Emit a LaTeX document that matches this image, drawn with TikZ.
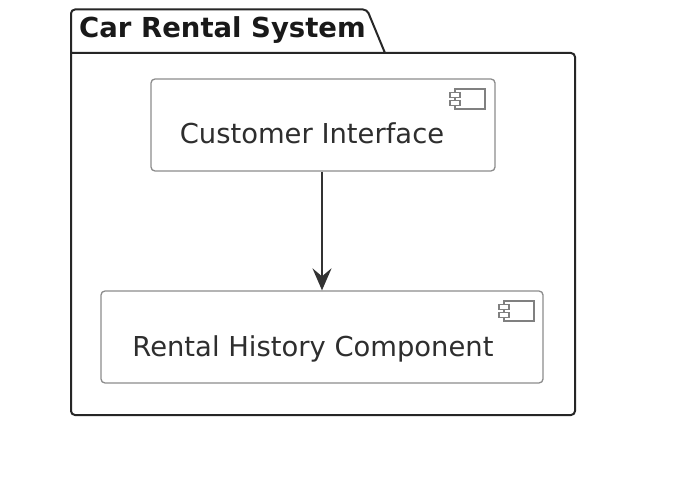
\documentclass[tikz,border=0pt]{standalone}
\usepackage{fontspec}
\setmainfont{DejaVu Sans}
\usetikzlibrary{arrows.meta}
\tikzset{
  x=1pt,y=-1pt,
  pkgline/.style={draw=black!85,line width=2pt,rounded corners=4pt},
  compbox/.style={draw=black!45,line width=1.3pt,rounded corners=4pt,fill=white,inner sep=0pt},
  iconline/.style={draw=black!50,line width=1.3pt,fill=white},
  lbl/.style={font=\fontsize{27.4}{32}\selectfont,text=black!82,inner sep=0pt,anchor=base},
  titlelbl/.style={font=\bfseries\fontsize{27.5}{32}\selectfont,text=black!90,inner sep=0pt,anchor=base},
  flow/.style={draw=black!80,line width=2.2pt,-{Stealth[length=22pt,width=19pt,inset=8pt]}}
}
\newcommand{\compicon}[2]{%
  \draw[iconline] (#1+5,#2) rectangle (#1+35,#2+20);
  \draw[iconline] (#1,#2+3.5) rectangle (#1+10,#2+8.5);
  \draw[iconline] (#1,#2+11.5) rectangle (#1+10,#2+16.5);
}
\begin{document}
\begin{tikzpicture}
\useasboundingbox[fill=white] (0,0) rectangle (678,500);
\draw[pkgline] (385,53) -- (367,9.5) -- (71,9.5) -- (71,415) -- (575,415) -- (575,53) -- (71,53);
\node[titlelbl] (title) at (222.5,38) {Car Rental System};
\node[compbox,minimum width=344pt,minimum height=92pt] (cust) at (323,125) {};
\node[compbox,minimum width=442pt,minimum height=92pt] (hist) at (322,337) {};
\node[lbl] (custl) at (312,144) {Customer Interface};
\node[lbl] (histl) at (313,356) {Rental History Component};
\compicon{450}{89}
\compicon{499}{301}
\draw[flow] (cust.south -| hist.north) -- (hist.north);
\end{tikzpicture}
\end{document}
